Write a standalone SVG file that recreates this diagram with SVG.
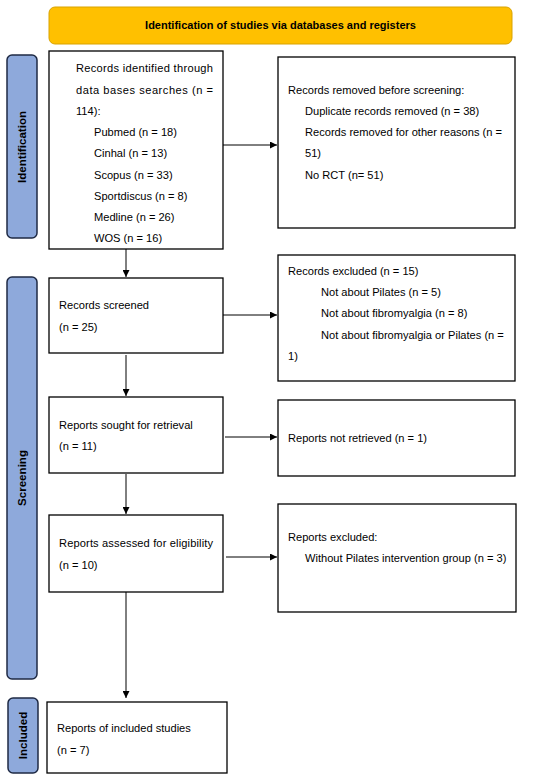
<svg xmlns="http://www.w3.org/2000/svg" width="550" height="780" viewBox="0 0 550 780">
<defs>
<style>
text{font-family:"Liberation Sans",Arial,sans-serif;font-size:11.1px;fill:#000}
.b{fill:#fff;stroke:#000;stroke-width:1.3}
.side{fill:#8EA9DB;stroke:#1F2A44;stroke-width:1.5}
.sl{font-weight:bold;font-size:11.6px;text-anchor:middle}
.c{stroke:#000;stroke-width:1;fill:none;marker-end:url(#ah)}
</style>
<marker id="ah" viewBox="0 0 10 10" refX="10" refY="5" markerWidth="7" markerHeight="7" markerUnits="userSpaceOnUse" orient="auto"><path d="M0,0L10,5L0,10z" fill="#000"/></marker>
</defs>
<rect width="550" height="780" fill="#fff"/>
<g id="banner">
<rect x="49" y="7" width="463" height="37" rx="6" fill="#FFC000" stroke="#D9A300" stroke-width="1"/>
<text x="280.5" y="29" text-anchor="middle" font-weight="bold" style="font-size:11px">Identification of studies via databases and registers</text>
</g>
<g id="side-identification">
<rect class="side" x="7" y="55" width="30" height="183" rx="5"/>
<text class="sl" transform="translate(26,147) rotate(-90)">Identification</text>
</g>
<g id="side-screening">
<rect class="side" x="7" y="277" width="30" height="402" rx="5"/>
<text class="sl" transform="translate(26,478) rotate(-90)">Screening</text>
</g>
<g id="side-included">
<rect class="side" x="8" y="698" width="30" height="75" rx="5"/>
<text class="sl" transform="translate(27,735.5) rotate(-90)">Included</text>
</g>
<g id="identified">
<rect class="b" x="49" y="51" width="174" height="198"/>
<text x="76" y="72" textLength="137" lengthAdjust="spacing">Records identified through</text>
<text x="76" y="94" textLength="137" lengthAdjust="spacing">data bases searches (n =</text>
<text x="76" y="115">114):</text>
<text x="94" y="136">Pubmed (n = 18)</text>
<text x="94" y="157">Cinhal (n = 13)</text>
<text x="94" y="179">Scopus (n = 33)</text>
<text x="94" y="200">Sportdiscus (n = 8)</text>
<text x="94" y="221">Medline (n = 26)</text>
<text x="94" y="242">WOS (n = 16)</text>
</g>
<g id="removed">
<rect class="b" x="278" y="57" width="237" height="171"/>
<text x="288" y="94">Records removed before screening:</text>
<text x="305" y="115">Duplicate records removed (n = 38)</text>
<text x="305" y="136">Records removed for other reasons (n =</text>
<text x="305" y="157">51)</text>
<text x="305" y="179">No RCT (n= 51)</text>
</g>
<g id="screened">
<rect class="b" x="49" y="278" width="174" height="75"/>
<text x="59" y="309">Records screened</text>
<text x="59" y="331">(n = 25)</text>
</g>
<g id="excluded1">
<rect class="b" x="278" y="255" width="237" height="126"/>
<text x="288" y="275">Records excluded (n = 15)</text>
<text x="321" y="296">Not about Pilates (n = 5)</text>
<text x="321" y="317">Not about fibromyalgia (n = 8)</text>
<text x="321" y="339">Not about fibromyalgia or Pilates (n =</text>
<text x="288" y="360">1)</text>
</g>
<g id="sought">
<rect class="b" x="49" y="397" width="174" height="76"/>
<text x="59" y="429">Reports sought for retrieval</text>
<text x="59" y="450">(n = 11)</text>
</g>
<g id="notretrieved">
<rect class="b" x="278" y="400" width="237" height="76"/>
<text x="288" y="442">Reports not retrieved (n = 1)</text>
</g>
<g id="assessed">
<rect class="b" x="49" y="515" width="174" height="77"/>
<text x="59" y="547" textLength="154" lengthAdjust="spacing">Reports assessed for eligibility</text>
<text x="59" y="569">(n = 10)</text>
</g>
<g id="excluded2">
<rect class="b" x="278" y="504" width="238" height="108"/>
<text x="288" y="541">Reports excluded:</text>
<text x="305" y="562">Without Pilates intervention group (n = 3)</text>
</g>
<g id="included">
<rect class="b" x="47" y="702" width="180" height="71"/>
<text x="57" y="732">Reports of included studies</text>
<text x="57" y="754">(n = 7)</text>
</g>
<g id="connectors">
<path class="c" d="M223,145H277"/>
<path class="c" d="M126,249V277"/>
<path class="c" d="M223,315H277"/>
<path class="c" d="M126,355V396"/>
<path class="c" d="M225,437H277"/>
<path class="c" d="M126,474V514"/>
<path class="c" d="M226,557H277"/>
<path class="c" d="M126,592V698"/>
</g>
</svg>
